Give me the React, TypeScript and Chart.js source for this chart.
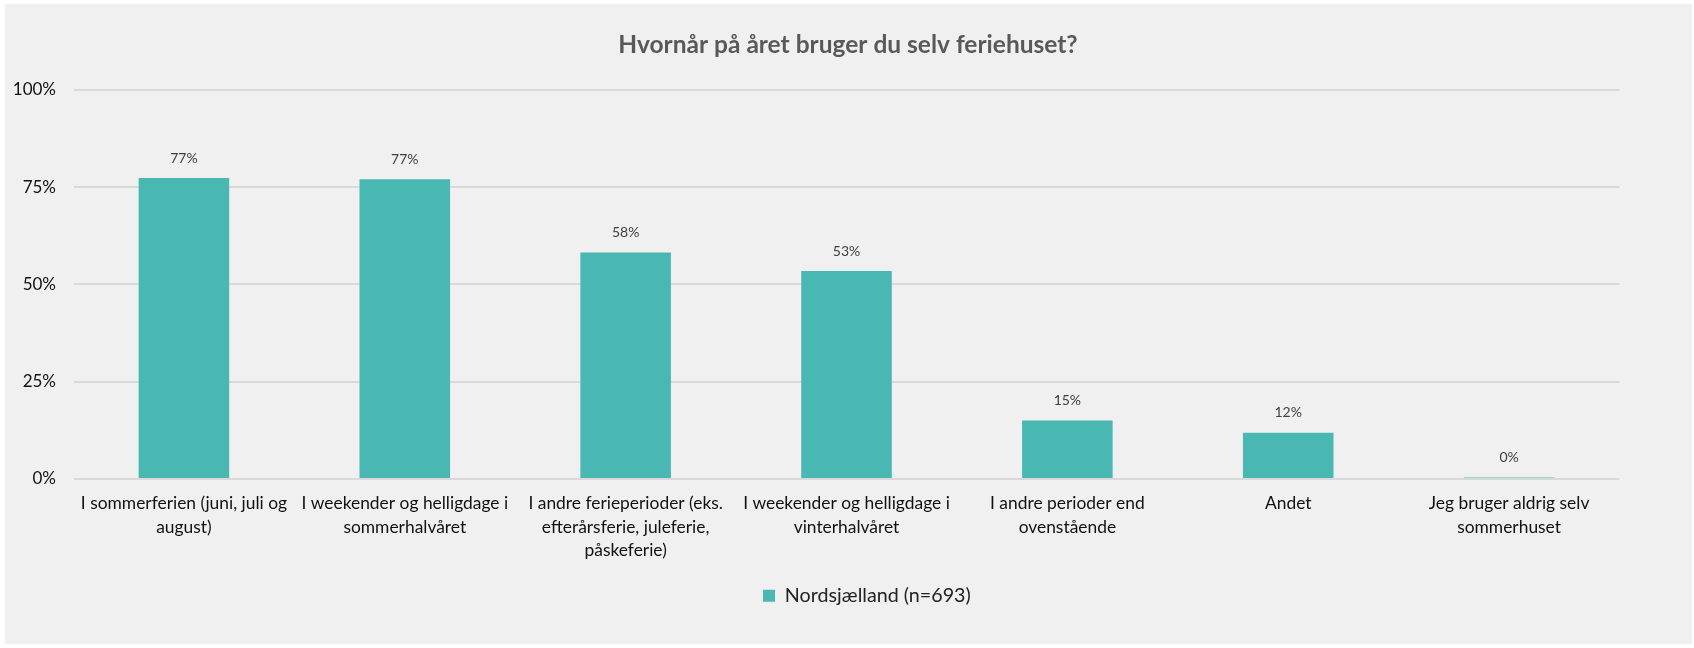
import React, { useEffect, useRef } from "react";
import { Chart, registerables } from "chart.js";

Chart.register(...registerables);

const chartTitle = "Hvornår på året bruger du selv feriehuset?";
const categories: string[][] = [
  ["I sommerferien (juni, juli og", "august)"],
  ["I weekender og helligdage i", "sommerhalvåret"],
  ["I andre ferieperioder (eks.", "efterårsferie, juleferie,", "påskeferie)"],
  ["I weekender og helligdage i", "vinterhalvåret"],
  ["I andre perioder end", "ovenstående"],
  ["Andet"],
  ["Jeg bruger aldrig selv", "sommerhuset"],
];
const seriesName = "Nordsjælland (n=693)";
const seriesValues = [77.3, 77.0, 58.2, 53.4, 15.0, 11.9, 0.4];
const yTickValues = [0, 25, 50, 75, 100];

const FONT = "Lato, 'Open Sans', sans-serif";
const BAR_COLOR = "#4ab8b2";
const LEGEND_BOX_X = 758;
const TITLE_CENTER_X = 843;

const dataLabelPlugin = {
  id: "dataLabels",
  afterDatasetsDraw(chart: any) {
    const ctx = chart.ctx;
    chart.data.datasets.forEach((ds: any, i: number) => {
      const meta = chart.getDatasetMeta(i);
      meta.data.forEach((el: any, j: number) => {
        const v = ds.data[j] as number;
        ctx.save();
        ctx.font = `14px ${FONT}`;
        ctx.fillStyle = "#404040";
        ctx.textAlign = "center";
        ctx.textBaseline = "middle";
        ctx.fillText(Math.round(v) + "%", el.x, el.y - 20);
        ctx.restore();
      });
    });
  },
};

const boxShiftPlugin = {
  id: "boxShift",
  afterLayout(chart: any) {
    const lg = chart.legend;
    if (lg && lg.lineWidths) {
      const pad = lg.options.labels.padding;
      const cur = (lg.left + pad + lg.right - lg.lineWidths[0]) / 2;
      const d = LEGEND_BOX_X - cur;
      lg.left += d;
      lg.right += d;
    }
    const tb = chart.titleBlock;
    if (tb) {
      const d = TITLE_CENTER_X - (tb.left + tb.right) / 2;
      tb.left += d;
      tb.right += d;
    }
  },
};

export default function App() {
  const ref = useRef<HTMLCanvasElement | null>(null);

  useEffect(() => {
    if (!ref.current) return;
    const chart = new Chart(ref.current, {
      type: "bar",
      data: {
        labels: categories,
        datasets: [
          {
            label: seriesName,
            data: seriesValues,
            backgroundColor: BAR_COLOR,
            borderWidth: 0,
            barPercentage: 0.41,
            categoryPercentage: 1,
          },
        ],
      },
      options: {
        responsive: false,
        animation: false,
        layout: { padding: { left: 0, right: 72.5, top: 0, bottom: 28.5 } },
        plugins: {
          title: {
            display: true,
            text: chartTitle,
            color: "#595959",
            font: { family: FONT, size: 24.5, weight: "bold" },
            padding: { top: 26.3, bottom: 30 },
          },
          legend: {
            display: true,
            position: "bottom",
            labels: {
              boxWidth: 12,
              boxHeight: 12,
              padding: 10,
              color: "#222",
              font: { family: FONT, size: 19.7 },
            },
          },
          tooltip: { enabled: false },
        },
        scales: {
          x: {
            grid: { display: false, drawTicks: false },
            border: { display: false },
            ticks: {
              color: "#111",
              padding: 13,
              maxRotation: 0,
              autoSkip: false,
              font: { family: FONT, size: 17.4, lineHeight: 1.35 },
            },
            afterFit(scale: any) {
              scale.height = 96.8;
            },
          },
          y: {
            min: 0,
            max: 100,
            afterBuildTicks(scale: any) {
              scale.ticks = yTickValues.map((v) => ({ value: v }));
            },
            grid: { color: "#d9d9d9", lineWidth: 2, drawTicks: false },
            border: { display: false },
            ticks: {
              color: "#111",
              padding: 17.5,
              font: { family: FONT, size: 17 },
              callback: (v: any) => v + "%",
            },
            afterFit(scale: any) {
              scale.width = 68.5;
            },
          },
        },
      },
      plugins: [dataLabelPlugin, boxShiftPlugin],
    } as any);
    return () => chart.destroy();
  }, []);

  return (
    <div
      style={{
        position: "fixed",
        left: 0,
        top: 0,
        width: 1694,
        height: 648,
        background: "#ffffff",
      }}
    >
      <div
        style={{
          position: "absolute",
          left: 5,
          top: 4,
          width: 1687,
          height: 640,
          background: "#f0f0f0",
        }}
      >
        <canvas ref={ref} width={1687} height={640} style={{ display: "block" }} />
      </div>
    </div>
  );
}
